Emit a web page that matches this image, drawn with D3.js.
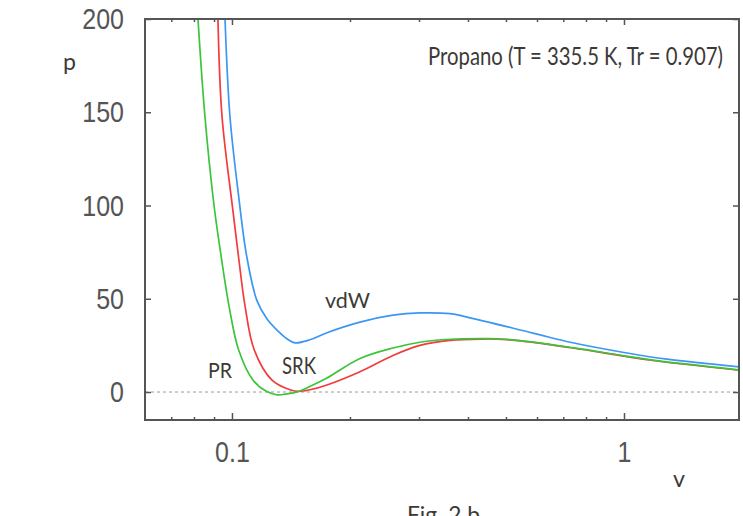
<!DOCTYPE html>
<html>
<head>
<meta charset="utf-8">
<script src="https://cdn.jsdelivr.net/npm/d3@7"></script>
<style>
  body { margin: 0; background: #fff; }
  svg { display: block; }
</style>
</head>
<body>
<div id="chart"></div>
<script>
// Isotherms of propane (v in log scale, p linear)
var prV  = [0.0819, 0.0853, 0.0900, 0.0935, 0.0985, 0.1040, 0.1131, 0.1220, 0.1303, 0.1380, 0.1465, 0.1600, 0.1747, 0.2121, 0.2575, 0.3016, 0.360, 0.430, 0.502, 0.740, 1.000, 1.185, 1.98];
var prP  = [200, 148, 100, 75, 45, 22.5, 6.4, 0.5, -1.5, -1.0, 0, 3.5, 7.5, 18.0, 23.6, 26.7, 28.3, 28.6, 28.3, 23.8, 19.4, 17.1, 11.8];

var srkV = [0.0921, 0.0943, 0.1006, 0.1040, 0.1080, 0.1140, 0.1265, 0.1406, 0.1480, 0.158, 0.1747, 0.2121, 0.2575, 0.3016, 0.360, 0.430, 0.502, 0.740, 1.000, 1.185, 1.98];
var srkP = [200, 148, 97, 72, 46, 22.5, 6.4, 1.2, 0.3, 1.2, 3.8, 10.9, 19.6, 25.0, 27.7, 28.4, 28.1, 23.6, 19.2, 16.9, 11.6];

var vdwV = [0.0960, 0.0988, 0.1040, 0.1090, 0.1158, 0.1230, 0.1303, 0.1380, 0.1448, 0.158, 0.1747, 0.2121, 0.2575, 0.3016, 0.360, 0.398, 0.586, 0.740, 1.000, 1.287, 1.98];
var vdwP = [200, 148, 105, 73, 49, 39, 33.2, 28.6, 26.4, 28.0, 31.8, 37.5, 41.2, 42.4, 42.0, 40.2, 31.6, 26.4, 21.2, 17.6, 13.4];

var yTicks = [0, 50, 100, 150, 200];
var xMajor = [0.1, 1];
var xMinor = [0.07, 0.08, 0.09, 0.2, 0.3, 0.4, 0.5, 0.6, 0.7, 0.8, 0.9];

var width = 743, height = 516;
// plot frame in pixels
var frameL = 145, frameR = 739, frameT = 19, frameB = 420;

var svg = d3.select("#chart").append("svg")
    .attr("width", width)
    .attr("height", height);

var x = d3.scaleLog().domain([0.06, 1.965]).range([frameL, frameR]);
var y = d3.scaleLinear().domain([-15, 200]).range([frameB, frameT]);

// clip the curves to the frame
svg.append("clipPath").attr("id", "clip")
  .append("rect")
    .attr("x", frameL).attr("y", frameT)
    .attr("width", frameR - frameL).attr("height", frameB - frameT);

// dotted p = 0 line
svg.append("line")
    .attr("x1", frameL).attr("x2", frameR)
    .attr("y1", y(0)).attr("y2", y(0))
    .attr("stroke", "#9a9a9a")
    .attr("stroke-width", 1)
    .attr("stroke-dasharray", "3,3");

var line = d3.line()
    .x(d => x(d[0]))
    .y(d => y(d[1]))
    .curve(d3.curveCatmullRom.alpha(0.5));

function series(vs, ps) {
    return vs.map((v, i) => [v, ps[i]]);
}

var curves = [
    { pts: series(srkV, srkP), color: "#f23b3b" },
    { pts: series(prV, prP), color: "#3cc43c" },
    { pts: series(vdwV, vdwP), color: "#3b97f4" }
];

svg.append("g").attr("clip-path", "url(#clip)")
  .selectAll("path")
  .data(curves)
  .enter().append("path")
    .attr("d", d => line(d.pts))
    .attr("fill", "none")
    .attr("stroke", d => d.color)
    .attr("stroke-width", 1.7);

// axes: ticks point inward on all four sides
function styleAxis(g) {
    g.select(".domain").remove();
    g.selectAll("line").attr("stroke", "#555").attr("stroke-width", 1.5);
}

svg.append("g").attr("transform", `translate(0,${frameB})`)
    .call(d3.axisBottom(x).tickValues(xMinor).tickSize(-3).tickFormat(""))
    .call(styleAxis);
svg.append("g").attr("transform", `translate(0,${frameB})`)
    .call(d3.axisBottom(x).tickValues(xMajor).tickSize(-7).tickFormat(d3.format("")))
    .call(styleAxis)
    .selectAll("text")
    .attr("y", 0).attr("dy", null)
    .attr("transform", "translate(0,42) scale(1,1.15)")
    .attr("fill", "#555")
    .style("font", "25px 'Liberation Sans', Arial, sans-serif");

svg.append("g").attr("transform", `translate(0,${frameT})`)
    .call(d3.axisTop(x).tickValues(xMinor).tickSize(-3).tickFormat(""))
    .call(styleAxis);
svg.append("g").attr("transform", `translate(0,${frameT})`)
    .call(d3.axisTop(x).tickValues(xMajor).tickSize(-6).tickFormat(""))
    .call(styleAxis);

svg.append("g").attr("transform", `translate(${frameL},0)`)
    .call(d3.axisLeft(y).tickValues(yTicks).tickSize(-6))
    .call(styleAxis)
    .selectAll("text")
    .attr("x", 0).attr("dy", null)
    .attr("text-anchor", "end")
    .attr("transform", "translate(-21,9.5) scale(1,1.15)")
    .attr("fill", "#555")
    .style("font", "25px 'Liberation Sans', Arial, sans-serif");

svg.append("g").attr("transform", `translate(${frameR},0)`)
    .call(d3.axisRight(y).tickValues(yTicks).tickSize(-6).tickFormat(""))
    .call(styleAxis);

// frame
svg.append("rect")
    .attr("x", frameL).attr("y", frameT)
    .attr("width", frameR - frameL).attr("height", frameB - frameT)
    .attr("fill", "none")
    .attr("stroke", "#555")
    .attr("stroke-width", 2);

// labels
var labels = [
    { text: "Propano (T = 335.5 K, Tr = 0.907)", x: 428, y: 65, w: 295, size: 25 },
    { text: "vdW", x: 325, y: 308, w: 45, size: 22 },
    { text: "SRK", x: 282, y: 374, w: 34, size: 24 },
    { text: "PR", x: 208, y: 378, w: 24, size: 22 },
    { text: "p", x: 63, y: 70, w: 13, size: 23 },
    { text: "v", x: 673, y: 487, w: 12, size: 24 },
    { text: "Fig. 2 b", x: 407, y: 523, w: 73, size: 23 }
];

svg.selectAll(".lbl")
  .data(labels)
  .enter().append("text")
    .attr("class", "lbl")
    .attr("x", d => d.x)
    .attr("y", d => d.y)
    .attr("textLength", d => d.w)
    .attr("lengthAdjust", "spacingAndGlyphs")
    .attr("fill", "#3d3a36")
    .style("font-family", "Lato, 'Open Sans', sans-serif")
    .style("font-size", d => d.size + "px")
    .text(d => d.text);
</script>
</body>
</html>
